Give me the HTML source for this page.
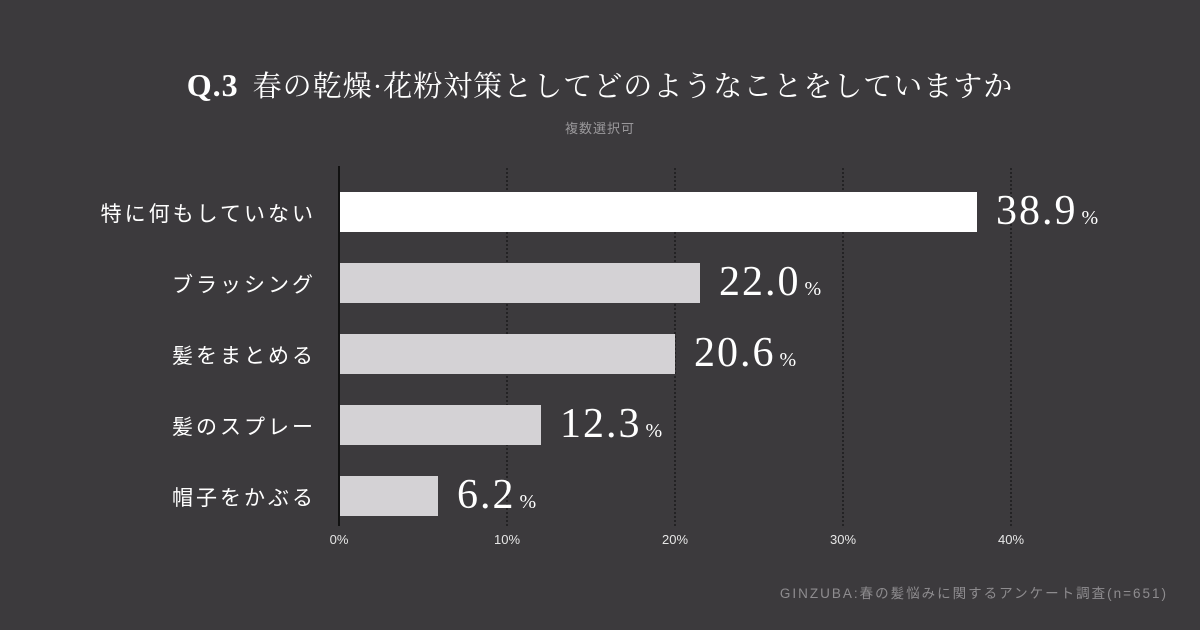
<!DOCTYPE html>
<html><head><meta charset="utf-8"><style>
body{margin:0;width:1200px;height:630px;background:#3c3a3d;position:relative;overflow:hidden;font-family:"Liberation Sans","Noto Sans CJK JP",sans-serif;}
.a{position:absolute;}
.t{left:0;width:1200px;top:64px;text-align:center;color:#fff;font-size:29px;font-family:"Liberation Serif","Noto Serif CJK SC",serif;letter-spacing:1px;white-space:nowrap;}
.t b{font-weight:bold;font-size:32px;margin-right:14px;}
.s{left:0;width:1200px;top:118px;text-align:center;color:#9a989b;font-size:13px;letter-spacing:1px;}
.g{top:168px;height:358px;width:0;border-left:2px dotted #232224;}
.ax{left:338px;top:166px;width:2px;height:360px;background:#111;}
.lab{right:884px;color:#fff;font-size:21px;letter-spacing:3px;text-align:right;white-space:nowrap;}
.bar{left:340px;height:40px;background:#d4d2d5;}
.v{color:#fff;font-family:"Liberation Serif",serif;font-size:42px;white-space:nowrap;letter-spacing:2px;}
.v span{font-size:20px;margin-left:4px;}
.tk{top:532px;color:#e6e6e6;font-size:13px;width:60px;margin-left:-30px;text-align:center;}
.f{right:32px;top:582px;color:#8e8c8f;font-size:13.5px;letter-spacing:2px;}
</style></head><body>
<div class="a t"><b>Q.3</b>春の乾燥·花粉対策としてどのようなことをしていますか</div>
<div class="a s">複数選択可</div>
<div class="a g" style="left:506px"></div>
<div class="a g" style="left:674px"></div>
<div class="a g" style="left:842px"></div>
<div class="a g" style="left:1010px"></div>
<div class="a bar" style="top:192px;width:637px;background:#fff"></div>
<div class="a bar" style="top:263px;width:360px"></div>
<div class="a bar" style="top:334px;width:335px"></div>
<div class="a bar" style="top:405px;width:201px"></div>
<div class="a bar" style="top:476px;width:98px"></div>
<div class="a ax"></div>
<div class="a lab" style="top:198px">特に何もしていない</div>
<div class="a lab" style="top:269px">ブラッシング</div>
<div class="a lab" style="top:340px">髪をまとめる</div>
<div class="a lab" style="top:411px">髪のスプレー</div>
<div class="a lab" style="top:482px">帽子をかぶる</div>
<div class="a v" style="left:996px;top:187px">38.9<span>%</span></div>
<div class="a v" style="left:719px;top:258px">22.0<span>%</span></div>
<div class="a v" style="left:694px;top:329px">20.6<span>%</span></div>
<div class="a v" style="left:560px;top:400px">12.3<span>%</span></div>
<div class="a v" style="left:457px;top:471px">6.2<span>%</span></div>
<div class="a tk" style="left:339px">0%</div>
<div class="a tk" style="left:507px">10%</div>
<div class="a tk" style="left:675px">20%</div>
<div class="a tk" style="left:843px">30%</div>
<div class="a tk" style="left:1011px">40%</div>
<div class="a f">GINZUBA:春の髪悩みに関するアンケート調査(n=651)</div>
</body></html>
